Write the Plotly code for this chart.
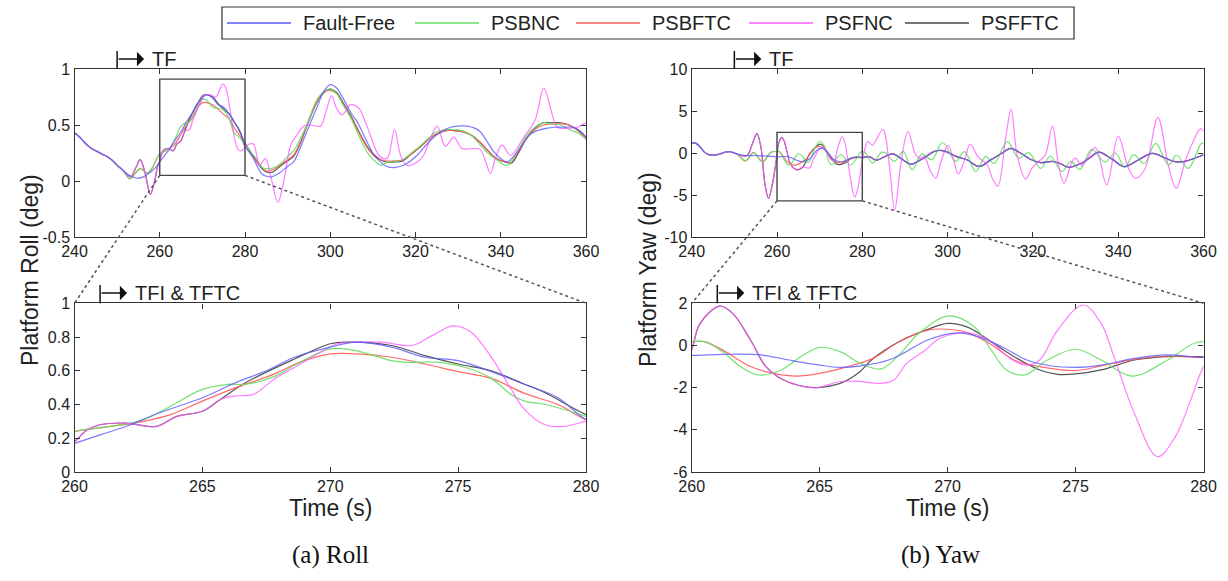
import plotly.graph_objects as go

# ---------------- data ----------------
# Roll: common segment before the fault (240-250 s)
roll_pre_t = [240, 241, 242, 243, 244, 245, 246, 247, 248, 249, 250]
roll_pre_v = [0.43, 0.40, 0.36, 0.32, 0.29, 0.27, 0.25, 0.23, 0.21, 0.18, 0.14]

roll_ff_t = [251, 252.5, 254.6, 256, 257.5, 259, 260, 261, 262, 263.3, 265, 266.3, 267.5, 268.6, 270, 271, 272.4, 273.7, 275, 276.3,
             277.6, 278.9, 280, 281, 282, 283, 284, 285.3, 286.5, 288, 290, 291.4, 293, 294.5, 296.8, 298.5, 300, 301.5, 303, 305,
             306.3, 308, 310, 311, 313.3, 315, 317.2, 320.4, 322, 324.3, 326, 328.2, 330, 332.1, 334, 335.2, 337, 338.4, 340, 341.5,
             343, 345.4, 347, 348.5, 350.6, 352.5, 354.5, 356.8, 358.5, 360]
roll_ff_v = [0.11, 0.06, 0.025, 0.035, 0.07, 0.12, 0.17, 0.22, 0.27, 0.35, 0.44, 0.53, 0.60, 0.68, 0.74, 0.77, 0.74, 0.68, 0.66, 0.595,
             0.52, 0.44, 0.31, 0.26, 0.2, 0.12, 0.06, 0.04, 0.04, 0.07, 0.13, 0.17, 0.30, 0.44, 0.65, 0.80, 0.86, 0.83, 0.74, 0.60,
             0.53, 0.40, 0.25, 0.2, 0.13, 0.12, 0.14, 0.23, 0.30, 0.39, 0.44, 0.48, 0.49, 0.49, 0.47, 0.44, 0.34, 0.26, 0.2, 0.17,
             0.22, 0.34, 0.42, 0.45, 0.47, 0.48, 0.48, 0.48, 0.45, 0.39]

roll_psbnc_t = [251, 252, 253.1, 254.3, 255.4, 256.3, 257.1, 258.3, 259.3, 260, 261.4, 262.7, 263.75, 265, 266, 266.7, 267.8, 268.8, 270, 271,
                272.4, 273, 274.3, 275.4, 276.3, 277.1, 277.6, 278.4, 280, 281.5, 282.7, 284, 285, 286, 288.2, 290, 291.4, 293, 294.5, 296.8,
                298.5, 300, 301.5, 303, 305, 307, 309, 311, 312, 313.5, 315, 317, 319, 321, 323, 325, 327, 329, 331, 333,
                335, 337, 339, 341, 342, 344, 346, 348, 350, 352, 354, 356, 358, 360]
roll_psbnc_v = [0.11, 0.06, 0.02, 0.07, 0.11, 0.09, 0.07, 0.12, 0.2, 0.24, 0.27, 0.31, 0.39, 0.49, 0.52, 0.52, 0.565, 0.65, 0.73, 0.72,
                0.66, 0.65, 0.65, 0.615, 0.555, 0.456, 0.42, 0.40, 0.33, 0.25, 0.2, 0.12, 0.11, 0.11, 0.15, 0.22, 0.27, 0.38, 0.5, 0.72,
                0.8, 0.82, 0.78, 0.68, 0.55, 0.38, 0.24, 0.16, 0.14, 0.17, 0.17, 0.19, 0.25, 0.31, 0.38, 0.44, 0.46, 0.46, 0.45, 0.41,
                0.33, 0.25, 0.19, 0.14, 0.15, 0.27, 0.4, 0.48, 0.52, 0.51, 0.5, 0.46, 0.43, 0.37]

roll_psbftc_t = [251, 252, 253.1, 254.3, 255.4, 256.3, 257.1, 258.3, 259.3, 260, 261.4, 262.7, 263.75, 265, 266.3, 267.8, 268.8, 270, 271, 272.4,
                 273.7, 275, 276.3, 277.6, 278.9, 280, 282, 283.5, 285, 286.5, 288.2, 290, 291.4, 293, 294.5, 296.8, 298.5, 300, 301.5, 303,
                 305, 307, 309, 311, 313, 315, 317, 319, 321, 323, 325, 327, 329, 331, 333, 335, 337, 339, 341, 342.5,
                 344, 346, 348, 350, 352, 354, 356, 358, 360]
roll_psbftc_v = [0.11, 0.06, 0.02, 0.07, 0.11, 0.09, 0.07, 0.12, 0.2, 0.24, 0.27, 0.30, 0.34, 0.42, 0.50, 0.58, 0.65, 0.70, 0.70, 0.68,
                 0.64, 0.595, 0.555, 0.466, 0.40, 0.31, 0.21, 0.14, 0.09, 0.10, 0.14, 0.19, 0.23, 0.35, 0.5, 0.7, 0.79, 0.81, 0.78, 0.69,
                 0.56, 0.41, 0.28, 0.2, 0.18, 0.18, 0.19, 0.24, 0.3, 0.37, 0.42, 0.45, 0.45, 0.44, 0.41, 0.35, 0.27, 0.2, 0.17, 0.17,
                 0.25, 0.38, 0.46, 0.5, 0.51, 0.51, 0.5, 0.45, 0.38]

roll_psfnc_t = [251.5, 252.5, 253.3, 254.4, 255.4, 256.5, 257.8, 258.8, 259.5, 260, 260.5, 261, 262, 263.2, 264, 265, 265.7, 266.2, 267, 267.8,
                268.6, 269.5, 270.3, 271, 272, 273.2, 274, 274.8, 275.5, 276.3, 277, 277.6, 278.4, 279.1, 280, 281, 282, 283.4, 284.8, 286,
                287.7, 289, 290.8, 292, 293.8, 295.3, 297.7, 299, 300.3, 301.5, 302.8, 304.7, 306.7, 308, 309.4, 311.4, 313.3, 315.1, 316.5, 318,
                320.4, 321.9, 323.5, 325.1, 327, 329, 330.9, 333.3, 335.2, 337.6, 338.7, 340.3, 342.3, 345.4, 348.1, 350.1, 352.1, 353.2, 355.6, 357.9,
                360]
roll_psfnc_v = [0.09, 0.05, 0.04, 0.12, 0.19, 0.08, -0.12, 0.0, 0.13, 0.18, 0.25, 0.28, 0.29, 0.27, 0.33, 0.36, 0.43, 0.45, 0.46, 0.55,
                0.62, 0.7, 0.76, 0.77, 0.77, 0.75, 0.81, 0.866, 0.83, 0.68, 0.51, 0.37, 0.28, 0.27, 0.3, 0.33, 0.33, 0.14, 0.2, 0.05,
                -0.19, -0.02, 0.33, 0.4, 0.49, 0.5, 0.49, 0.62, 0.76, 0.65, 0.59, 0.68, 0.65, 0.55, 0.41, 0.23, 0.2, 0.46, 0.23, 0.14,
                0.17, 0.23, 0.38, 0.49, 0.31, 0.39, 0.29, 0.29, 0.28, 0.07, 0.2, 0.32, 0.23, 0.39, 0.55, 0.83, 0.59, 0.48, 0.47, 0.48,
                0.52]

roll_psfftc_t = [251.5, 252.5, 253.3, 254.4, 255.4, 256.5, 257.8, 258.8, 259.5, 260, 260.5, 261, 262, 263.2, 264, 265, 265.7, 266.7, 268.6, 270,
                 270.6, 272.4, 273.7, 275, 276.3, 277.6, 278.4, 280, 282, 283.5, 285, 286.5, 288.2, 290, 291.4, 293, 294.5, 296.8, 298.5, 300,
                 301.5, 303, 305, 307, 309, 311, 313, 315, 317, 319, 321, 323, 325, 327, 329, 331, 333, 335, 337, 339,
                 341, 342.5, 344, 346, 348, 350, 352, 354, 356, 358, 360]
roll_psfftc_v = [0.09, 0.05, 0.04, 0.12, 0.19, 0.08, -0.12, 0.0, 0.13, 0.18, 0.25, 0.28, 0.29, 0.27, 0.33, 0.36, 0.43, 0.53, 0.67, 0.76,
                 0.77, 0.75, 0.69, 0.64, 0.6, 0.52, 0.47, 0.34, 0.22, 0.13, 0.08, 0.08, 0.13, 0.18, 0.22, 0.34, 0.49, 0.7, 0.79, 0.82,
                 0.79, 0.7, 0.57, 0.42, 0.29, 0.21, 0.17, 0.17, 0.18, 0.24, 0.3, 0.37, 0.42, 0.45, 0.45, 0.44, 0.41, 0.35, 0.27, 0.2,
                 0.17, 0.16, 0.24, 0.38, 0.47, 0.52, 0.52, 0.52, 0.5, 0.46, 0.39]

# Yaw: common segment before the fault (240-250 s)
yaw_pre_t = [240, 241, 242, 243, 244, 245, 246, 247, 248, 249, 250]
yaw_pre_v = [1.2, 1.15, 0.7, 0.1, -0.2, -0.25, -0.2, -0.05, 0.12, 0.15, 0.0]

# Yaw: common tail shared by Fault-Free, PSBFTC and PSFFTC (after ~281 s)
yaw_tail_t = [281.7, 283.3, 285.2, 287.1, 289.5, 291.4, 293, 294.5, 296.5, 298, 299.5, 302, 304.6, 307.4, 310, 312.8, 314.8, 317.1, 319.4, 321.8,
              323.5, 324.5, 326.4, 328.4, 331.5, 333.5, 335.4, 338.5, 341.4, 344.7, 348, 351, 353.3, 355.6, 357.5, 360]
yaw_tail_v = [-0.45, -0.85, -0.45, -0.1, -0.8, -1.35, -1.0, -0.6, 0.1, 0.3, 0.2, -0.4, -0.83, -1.6, -0.85, 0.0, 0.56, 0.0, -0.75, -1.15,
              -1.05, -1.0, -1.25, -1.7, -1.2, -0.5, 0.1, -0.7, -1.63, -0.83, -0.05, -0.6, -1.03, -1.0, -0.7, -0.2]

yaw_ff_t = [251, 252.8, 255, 257, 259, 260, 261.2, 262.7, 263.8, 265, 265.8, 266.6, 267.7, 268.3, 269.2, 270.4, 271.2, 272.1, 273.1, 274,
            275, 276, 277.3, 278.6, 280]
yaw_ff_v = [-0.15, -0.3, -0.3, -0.35, -0.4, -0.47, -0.42, -0.45, -0.69, -0.93, -1.04, -0.97, -0.69, -0.35, 0.25, 0.6, 0.42, -0.05, -0.69, -0.96,
            -1.04, -0.93, -0.61, -0.45, -0.56]

yaw_psbftc_t = [251, 252.6, 254.5, 256.6, 258.6, 260, 260.5, 261.2, 262.3, 263.2, 264.1, 265, 266.1, 267.1, 268.1, 269.2, 270, 270.8, 271.7, 272.6,
                273.6, 275, 276, 277.3, 278.6, 280]
yaw_psbftc_v = [-0.3, -0.95, 0.05, -1.05, 0.1, 0.18, 0.18, -0.21, -1.0, -1.32, -1.45, -1.32, -1.0, -0.6, 0.18, 0.72, 0.77, 0.6, 0.05, -0.69,
                -1.0, -1.19, -0.97, -0.66, -0.5, -0.56]

yaw_psbnc_t = [251, 252.6, 254.5, 256.6, 258.6, 260, 260.5, 261.2, 261.9, 262.6, 263.5, 264.3, 265, 265.8, 266.6, 267.4, 268.1, 268.9, 270.06, 271.04,
               271.7, 272.3, 273, 273.9, 275, 276, 277.2, 278.6, 279.7, 280.6, 282.4, 284.5, 285.5, 287.5, 289.6, 291.7, 294, 296.3, 298.8, 301.9,
               304, 306.6, 308.9, 310.9, 314, 316.7, 319, 321.8, 324.1, 326.8, 328.9, 331, 333.8, 336.9, 339.3, 341.6, 343.6, 346.1, 348.8, 351.8,
               353.7, 356.4, 359.5, 360]
yaw_psbnc_v = [-0.3, -0.95, 0.05, -1.05, 0.1, 0.18, 0.18, -0.29, -1.0, -1.4, -1.16, -0.5, -0.09, -0.29, -0.85, -1.11, -0.45, 0.6, 1.4, 0.89,
               -0.21, -1.16, -1.4, -0.69, -0.18, -0.69, -1.45, -0.69, 0.13, 0.1, -1.2, 0.1, 0.0, -1.0, 0.2, -2.0, -0.1, -0.8, 1.25, -1.0,
               0.16, -2.2, -0.44, -1.23, 1.35, -0.6, 0.04, -1.83, -0.36, -2.2, -1.0, -1.94, 0.44, -1.1, 0.0, -1.7, -0.2, -1.25, 1.15, -1.43,
               -0.24, -1.83, 1.15, 1.1]

yaw_psfnc_t = [251.5, 253, 254.3, 255.3, 256.2, 257.2, 258, 259, 260, 260.33, 261.1, 261.6, 262.3, 262.9, 263.6, 264.4, 264.9, 265.8, 266.5, 267.4,
               267.9, 268.4, 269.1, 269.7, 270.8, 271.6, 272.5, 273.1, 273.6, 274.3, 275.3, 276, 276.5, 277.3, 278.2, 278.9, 279.5, 280, 281.3, 282.4,
               284.8, 286.3, 287.6, 289, 290.7, 292.5, 293.5, 294.5, 296, 297.2, 298.6, 300.1, 301.3, 302.5, 304, 305.3, 307.2, 309.3, 310.5, 311.8,
               313.6, 314.9, 316.3, 318.3, 319.8, 321.4, 322.9, 324.6, 326, 327.3, 329.2, 330, 331.5, 334.6, 337.3, 340, 342.4, 344, 346.2, 349.3,
               351.8, 353.6, 355.7, 357.2, 359.3, 360]
yaw_psfnc_v = [-0.3, -0.3, 1.2, 2.3, 0.8, -3.8, -5.4, -3.5, -0.21, 1.05, 1.87, 1.52, 0.26, -1.0, -1.64, -1.95, -2.0, -1.71, -1.7, -1.8,
               -1.64, -0.85, -0.25, 0.34, 0.6, 0.26, -0.66, -0.93, -0.69, 0.73, 1.92, 1.05, -0.53, -3.22, -5.27, -4.32, -2.58, -1.0, 1.35, 0.95,
               2.8, -1.3, -6.8, -1.4, 2.55, -0.2, -0.6, -0.4, -2.2, -3.0, -0.8, 0.9, -0.6, -2.5, -0.8, 1.05, -0.5, -1.4, -3.0, -3.95,
               1.75, 5.2, -0.24, -3.1, -1.8, -1.0, -0.24, 3.2, -1.43, -3.6, -1.0, -0.6, -1.5, 0.65, -3.8, 2.0, -1.8, -3.0, -2.0, 4.2,
               -1.6, -4.2, -1.0, 0.95, 2.9, 2.6]

yaw_psfftc_t = [251.5, 253, 254.3, 255.3, 256.2, 257.2, 258, 259, 260, 260.33, 261.1, 261.6, 262.3, 262.9, 263.6, 264.4, 264.9, 265.8, 266.5, 267.1,
                268.1, 269.2, 270, 270.8, 271.7, 272.6, 273.6, 274.3, 275, 276, 277.3, 278.6, 280]
yaw_psfftc_v = [-0.3, -0.3, 1.2, 2.3, 0.8, -3.8, -5.4, -3.5, -0.21, 1.05, 1.87, 1.52, 0.26, -1.0, -1.64, -1.95, -2.0, -1.8, -1.32, -0.61,
                0.18, 0.75, 1.05, 0.86, 0.18, -0.53, -1.16, -1.37, -1.35, -1.16, -0.69, -0.53, -0.53]

series_names = ["Fault-Free", "PSBNC", "PSBFTC", "PSFNC", "PSFFTC"]
series_colors = ["#5a5aff", "#66e066", "#ff5c5c", "#ff5cff", "#444444"]
fault_time = 250          # TF
fault_id_time = 261       # TFI & TFTC
zoom_t = [260, 280]
roll_zoom_v = [0.05, 0.91]
yaw_zoom_v = [-5.7, 2.45]

# ---------------- layout helpers ----------------
W, H = 1228, 581
XL = [74.5 / W, 586 / W]
XR = [691.7 / W, 1203.5 / W]
YT = [1 - 237 / H, 1 - 69 / H]
YB = [1 - 472 / H, 1 - 303.3 / H]
RNG = {"rt": ([240, 360], [-0.5, 1]), "yt": ([240, 360], [-10, 10]),
       "rb": ([260, 280], [0, 1]), "yb": ([260, 280], [-6, 2])}


def px_x(v, dom, rng):
    return dom[0] + (v - rng[0]) / (rng[1] - rng[0]) * (dom[1] - dom[0])


def py(pix):
    return 1 - pix / H


for a, b in [(roll_ff_t, roll_ff_v), (roll_psbnc_t, roll_psbnc_v), (roll_psbftc_t, roll_psbftc_v),
             (roll_psfnc_t, roll_psfnc_v), (roll_psfftc_t, roll_psfftc_v), (yaw_tail_t, yaw_tail_v),
             (yaw_ff_t, yaw_ff_v), (yaw_psbftc_t, yaw_psbftc_v), (yaw_psbnc_t, yaw_psbnc_v),
             (yaw_psfnc_t, yaw_psfnc_v), (yaw_psfftc_t, yaw_psfftc_v)]:
    assert len(a) == len(b), (len(a), len(b))

SANS = "Liberation Sans, Arial, Helvetica, sans-serif"
SERIF = "Liberation Serif, Times New Roman, serif"

series = {
    "Fault-Free": dict(op=0.8, rt=roll_pre_t + roll_ff_t, rv=roll_pre_v + roll_ff_v,
                       yt=yaw_pre_t + yaw_ff_t + yaw_tail_t, yv=yaw_pre_v + yaw_ff_v + yaw_tail_v),
    "PSBNC": dict(op=0.9, rt=roll_pre_t + roll_psbnc_t, rv=roll_pre_v + roll_psbnc_v,
                  yt=yaw_pre_t + yaw_psbnc_t, yv=yaw_pre_v + yaw_psbnc_v),
    "PSBFTC": dict(op=0.9, rt=roll_pre_t + roll_psbftc_t, rv=roll_pre_v + roll_psbftc_v,
                   yt=yaw_pre_t + yaw_psbftc_t + yaw_tail_t, yv=yaw_pre_v + yaw_psbftc_v + yaw_tail_v),
    "PSFNC": dict(op=0.8, rt=roll_pre_t + roll_psfnc_t, rv=roll_pre_v + roll_psfnc_v,
                  yt=yaw_pre_t + yaw_psfnc_t, yv=yaw_pre_v + yaw_psfnc_v),
    "PSFFTC": dict(op=0.9, rt=roll_pre_t + roll_psfftc_t, rv=roll_pre_v + roll_psfftc_v,
                   yt=yaw_pre_t + yaw_psfftc_t + yaw_tail_t, yv=yaw_pre_v + yaw_psfftc_v + yaw_tail_v),
}
color_of = dict(zip(series_names, series_colors))

fig = go.Figure()
draw_order = ["PSFFTC", "PSBFTC", "PSBNC", "PSFNC", "Fault-Free"]
for name in draw_order:
    s = series[name]
    panels = [("x", "y", s["rt"], s["rv"]), ("x3", "y3", s["rt"], s["rv"]),
              ("x2", "y2", s["yt"], s["yv"]), ("x4", "y4", s["yt"], s["yv"])]
    for xa, ya, t, v in panels:
        fig.add_trace(go.Scatter(
            x=t, y=v, mode="lines", name=name, legendgroup=name, showlegend=False,
            opacity=s["op"], xaxis=xa, yaxis=ya,
            line=dict(color=color_of[name], width=1.2, shape="spline", smoothing=1.0)))

axis_common = dict(showline=True, linecolor="#333333", linewidth=1.4, mirror="ticks",
                   ticks="inside", ticklen=5, tickwidth=1, tickcolor="#333333",
                   showgrid=False, zeroline=False, automargin=False,
                   tickfont=dict(family=SANS, size=16, color="#222222"))


def ticks(vals):
    return [("%g" % v) for v in vals]


fig.update_layout(
    width=W, height=H, margin=dict(l=0, r=0, t=0, b=0, pad=0), autosize=False,
    paper_bgcolor="white", plot_bgcolor="white", showlegend=False,
    xaxis=dict(domain=XL, range=RNG["rt"][0], anchor="y", tickvals=list(range(240, 361, 20)), **axis_common),
    yaxis=dict(domain=YT, range=RNG["rt"][1], anchor="x", tickvals=[-0.5, 0, 0.5, 1],
               ticktext=ticks([-0.5, 0, 0.5, 1]), **axis_common),
    xaxis2=dict(domain=XR, range=RNG["yt"][0], anchor="y2", tickvals=list(range(240, 361, 20)), **axis_common),
    yaxis2=dict(domain=YT, range=RNG["yt"][1], anchor="x2", tickvals=[-10, -5, 0, 5, 10],
                ticktext=ticks([-10, -5, 0, 5, 10]), **axis_common),
    xaxis3=dict(domain=XL, range=RNG["rb"][0], anchor="y3", tickvals=[260, 265, 270, 275, 280], **axis_common),
    yaxis3=dict(domain=YB, range=RNG["rb"][1], anchor="x3", tickvals=[0, 0.2, 0.4, 0.6, 0.8, 1],
                ticktext=ticks([0, 0.2, 0.4, 0.6, 0.8, 1]), **axis_common),
    xaxis4=dict(domain=XR, range=RNG["yb"][0], anchor="y4", tickvals=[260, 265, 270, 275, 280], **axis_common),
    yaxis4=dict(domain=YB, range=RNG["yb"][1], anchor="x4", tickvals=[-6, -4, -2, 0, 2],
                ticktext=ticks([-6, -4, -2, 0, 2]), **axis_common),
)

shapes = []
annotations = []

# legend box (drawn as in the reference: long line samples followed by names)
legend_box_px = (222, 7, 1074, 39)
legend_line_start_px = [227, 415, 576, 749, 905]
legend_line_len_px = 64
shapes.append(dict(type="rect", xref="paper", yref="paper",
                   x0=legend_box_px[0] / W, x1=legend_box_px[2] / W,
                   y0=py(legend_box_px[3]), y1=py(legend_box_px[1]),
                   line=dict(color="#333333", width=1.2), fillcolor="white", layer="above"))
for name, xs in zip(series_names, legend_line_start_px):
    ymid = py((legend_box_px[1] + legend_box_px[3]) / 2)
    shapes.append(dict(type="line", xref="paper", yref="paper", x0=xs / W, x1=(xs + legend_line_len_px) / W,
                       y0=ymid, y1=ymid, line=dict(color=color_of[name], width=1.3)))
    annotations.append(dict(xref="paper", yref="paper", x=(xs + legend_line_len_px + 10) / W, y=ymid,
                            xanchor="left", yanchor="middle", showarrow=False, text=name,
                            font=dict(family=SANS, size=20, color="#222222")))

# zoom windows in the top panels
shapes.append(dict(type="rect", xref="x", yref="y", x0=zoom_t[0], x1=zoom_t[1],
                   y0=roll_zoom_v[0], y1=roll_zoom_v[1], line=dict(color="#444444", width=1.4)))
shapes.append(dict(type="rect", xref="x2", yref="y2", x0=zoom_t[0], x1=zoom_t[1],
                   y0=yaw_zoom_v[0], y1=yaw_zoom_v[1], line=dict(color="#444444", width=1.4)))

# dotted connectors from zoom window to bottom panels
for dom_x, rng_key, zoom_v in [(XL, "rt", roll_zoom_v), (XR, "yt", yaw_zoom_v)]:
    xr, yr = RNG[rng_key]
    yb_paper = YT[0] + (zoom_v[0] - yr[0]) / (yr[1] - yr[0]) * (YT[1] - YT[0])
    for k in range(2):
        shapes.append(dict(type="line", xref="paper", yref="paper",
                           x0=px_x(zoom_t[k], dom_x, xr), y0=yb_paper,
                           x1=dom_x[k], y1=YB[1],
                           line=dict(color="#555555", width=1.5, dash="dot")))

# event markers |-> TF and |-> TFI & TFTC
markers = [(XL, "rt", fault_time, "TF", YT[1], 51, 59),
           (XR, "yt", fault_time, "TF", YT[1], 51, 59),
           (XL, "rb", fault_id_time, "TFI &amp; TFTC", YB[1], 285, 293),
           (XR, "yb", fault_id_time, "TFI &amp; TFTC", YB[1], 285, 293)]
for dom_x, key, tval, label, ybase, ytop_px, yarrow_px in markers:
    xp = px_x(tval, dom_x, RNG[key][0])
    shapes.append(dict(type="line", xref="paper", yref="paper", x0=xp, x1=xp,
                       y0=ybase, y1=py(ytop_px), line=dict(color="#111111", width=1.5)))
    annotations.append(dict(xref="paper", yref="paper", x=xp + 27 / W, y=py(yarrow_px),
                            ax=-27, ay=0, axref="pixel", ayref="pixel",
                            showarrow=True, arrowhead=1, arrowsize=1.6, arrowwidth=1.5,
                            arrowcolor="#111111", text=""))
    annotations.append(dict(xref="paper", yref="paper", x=xp + 33 / W, y=py(yarrow_px),
                            xanchor="left", yanchor="middle", showarrow=False, text=label,
                            font=dict(family=SANS, size=20, color="#222222")))

# axis titles and captions
for x, y, txt, ang in [(30 / W, py(270), "Platform Roll (deg)", -90),
                       (648 / W, py(270), "Platform Yaw (deg)", -90)]:
    annotations.append(dict(xref="paper", yref="paper", x=x, y=y, text=txt, textangle=ang,
                            showarrow=False, xanchor="center", yanchor="middle",
                            font=dict(family=SANS, size=23, color="#222222")))
for dom_x in (XL, XR):
    annotations.append(dict(xref="paper", yref="paper", x=(dom_x[0] + dom_x[1]) / 2, y=py(508),
                            text="Time (s)", showarrow=False, xanchor="center", yanchor="middle",
                            font=dict(family=SANS, size=23, color="#222222")))
for x, txt in [(330 / W, "(a) Roll"), (940 / W, "(b) Yaw")]:
    annotations.append(dict(xref="paper", yref="paper", x=x, y=py(555), text=txt, showarrow=False,
                            xanchor="center", yanchor="middle",
                            font=dict(family=SERIF, size=25, color="#111111")))

fig.update_layout(shapes=shapes, annotations=annotations)
fig.write_html("out.html",
               post_script="document.body.style.margin='0px';document.body.style.overflow='hidden';")
